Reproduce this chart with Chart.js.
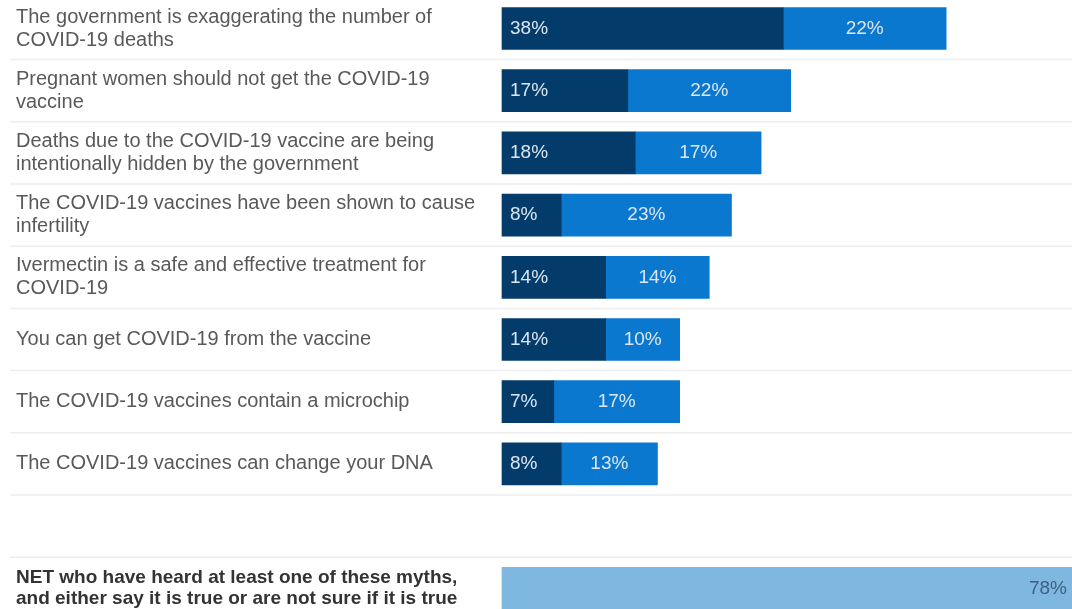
<!DOCTYPE html>
<html lang="en-US">
  <head>
    <meta charset="utf-8" />
    <title>COVID-19 myths</title>
    <style>
      body { margin: 0; background: #fff; }
      .wrap { width: 1072px; height: 609px; }
    </style>
  </head>
  <body>
    <div class="wrap">
      <canvas id="chart" width="1072" height="609"></canvas>
    </div>

    <script src="https://cdn.jsdelivr.net/npm/chart.js@4.4.0/dist/chart.umd.min.js"></script>
    <script>
      // rows, blank one keeps the gap before the NET row
      const categories = [
        ["The government is exaggerating the number of", "COVID-19 deaths"],
        ["Pregnant women should not get the COVID-19", "vaccine"],
        ["Deaths due to the COVID-19 vaccine are being", "intentionally hidden by the government"],
        ["The COVID-19 vaccines have been shown to cause", "infertility"],
        ["Ivermectin is a safe and effective treatment for", "COVID-19"],
        "You can get COVID-19 from the vaccine",
        "The COVID-19 vaccines contain a microchip",
        "The COVID-19 vaccines can change your DNA",
        "",
        ["NET who have heard at least one of these myths,", "and either say it is true or are not sure if it is true"]
      ];
      const trueValues   = [38, 17, 18, 8, 14, 14, 7, 8, null, null];
      const notSure      = [22, 22, 17, 23, 14, 10, 17, 13, null, null];
      const netValues    = [null, null, null, null, null, null, null, null, null, 78];

      const FONT = "'Liberation Sans', Arial, sans-serif";
      const NET_INDEX = 9;

      // faint separators between rows, full width
      const rowLines = {
        id: "rowLines",
        beforeDatasetsDraw(chart) {
          const ctx = chart.ctx;
          const y = chart.scales.y;
          ctx.save();
          ctx.strokeStyle = "#eeeeee";
          ctx.lineWidth = 1.5;
          for (let i = 0; i < categories.length - 1; i++) {
            const py = (y.getPixelForValue(i) + y.getPixelForValue(i + 1)) / 2;
            ctx.beginPath();
            ctx.moveTo(10, py);
            ctx.lineTo(chart.width, py);
            ctx.stroke();
          }
          ctx.restore();
        }
      };

      // percentage labels inside bars
      const barLabels = {
        id: "barLabels",
        afterDatasetsDraw(chart) {
          const ctx = chart.ctx;
          ctx.save();
          ctx.font = "19px " + FONT;
          ctx.textBaseline = "middle";
          chart.data.datasets.forEach((ds, di) => {
            const meta = chart.getDatasetMeta(di);
            meta.data.forEach((bar, i) => {
              const v = ds.data[i];
              if (v == null) return;
              const txt = v + "%";
              if (di === 0) {
                ctx.fillStyle = "#dbe6f2";
                ctx.textAlign = "left";
                ctx.fillText(txt, bar.base + 8, bar.y);
              } else if (di === 1) {
                ctx.fillStyle = "#dbe6f2";
                ctx.textAlign = "center";
                ctx.fillText(txt, (bar.base + bar.x) / 2, bar.y);
              } else {
                ctx.fillStyle = "#3e6185";
                ctx.textAlign = "right";
                ctx.fillText(txt, Math.min(bar.x, chart.chartArea.right) - 5, bar.y);
              }
            });
          });
          ctx.restore();
        }
      };

      new Chart(document.getElementById("chart"), {
        type: "bar",
        data: {
          labels: categories,
          datasets: [
            { label: "True", data: trueValues, backgroundColor: "#033c6b" },
            { label: "Not sure", data: notSure, backgroundColor: "#0b78d0" },
            { label: "NET", data: netValues, backgroundColor: "#7eb7e0" }
          ]
        },
        options: {
          indexAxis: "y",
          responsive: false,
          animation: false,
          layout: { padding: { left: 16, top: 28.5, bottom: 20.7, right: 0 } },
          datasets: {
            bar: { barThickness: 42, borderWidth: 0, clip: { left: false, top: false, right: 0, bottom: false } }
          },
          plugins: {
            legend: { display: false },
            tooltip: { enabled: false }
          },
          scales: {
            x: {
              stacked: true,
              min: 0,
              max: 77,
              display: false
            },
            y: {
              stacked: true,
              offset: false,
              grid: { display: false },
              border: { display: false },
              afterFit(scale) {
                scale.width = 486;
                scale.paddingTop = 0;
                scale.paddingBottom = 0;
              },
              ticks: {
                autoSkip: false,
                crossAlign: "far",
                padding: 0,
                color: (c) => c.index === NET_INDEX ? "#333333" : "#595959",
                font: (c) => ({
                  family: FONT,
                  size: c.index === NET_INDEX ? 19 : 20,
                  weight: c.index === NET_INDEX ? "bold" : "normal",
                  lineHeight: 1.15
                })
              }
            }
          }
        },
        plugins: [rowLines, barLabels]
      });
    </script>
  </body>
</html>
